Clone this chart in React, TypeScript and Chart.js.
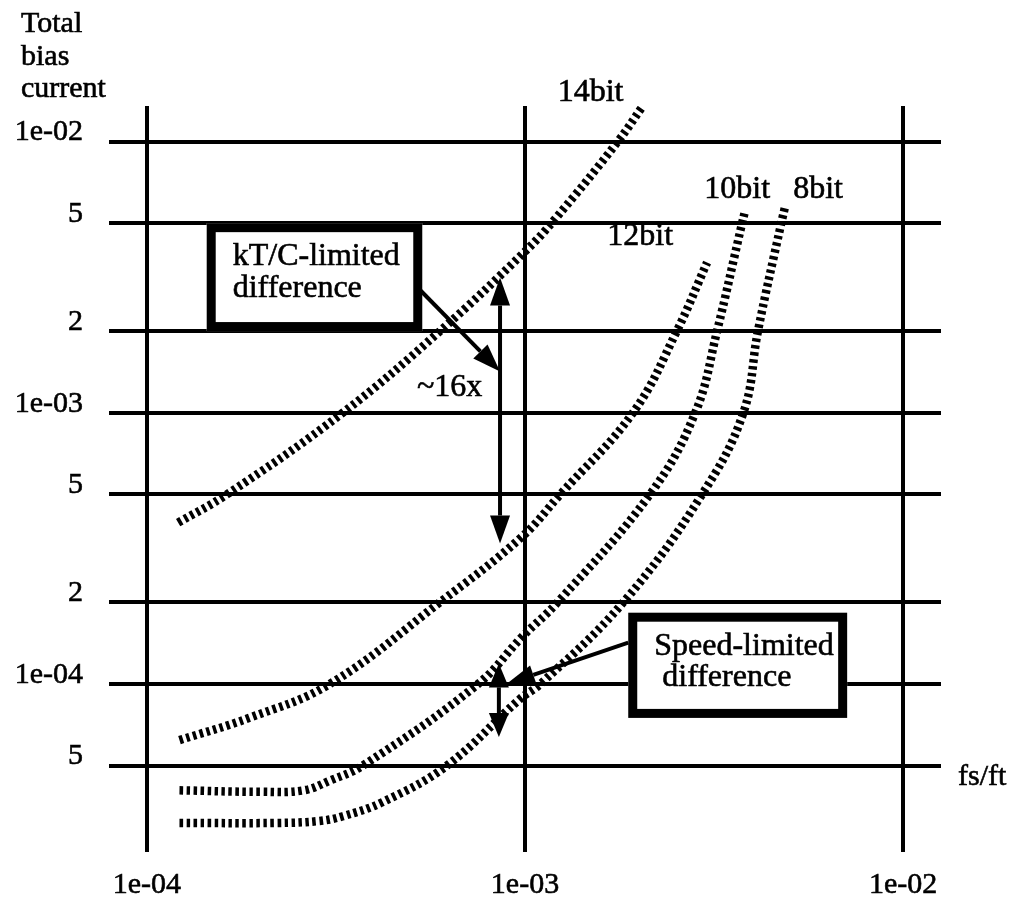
import React, { useEffect, useRef } from "react";
import { Chart, registerables } from "chart.js";

Chart.register(...registerables);

const FONT = '"Liberation Serif", "Times New Roman", Times, serif';

// axis bounds (log10)
const xRangeLog = [-4.1, -1.9];
const yRangeLog = [-4.62, -1.869];

const xTickValues = [1e-4, 1e-3, 1e-2];
const xTickLabels = ["1e-04", "1e-03", "1e-02"];
const yTickValues = [1e-2, 5e-3, 2e-3, 1e-3, 5e-4, 2e-4, 1e-4, 5e-5];
const yTickLabels = ["1e-02", "5", "2", "1e-03", "5", "2", "1e-04", "5"];

const yTitleLines = ["Total", "bias", "current"];
const xTitle = "fs/ft";

// curves
const seriesNames = ["14bit", "12bit", "10bit", "8bit"];
const x14 = [1.21e-4, 1.63e-4, 3.3e-4, 5.96e-4, 1.0e-3, 1.19e-3, 1.76e-3, 2.04e-3];
const y14 = [3.93e-4, 5.0e-4, 1.0e-3, 2.0e-3, 3.93e-3, 5.1e-3, 1.0e-2, 1.34e-2];
const x12 = [1.22e-4, 1.87e-4, 3.05e-4, 5.96e-4, 9.8e-4, 1.24e-3, 1.93e-3, 2.52e-3, 3.03e-3];
const y12 = [6.2e-5, 7.5e-5, 1.0e-4, 2.0e-4, 3.48e-4, 5.0e-4, 1.0e-3, 2.0e-3, 3.58e-3];
const x10 = [1.22e-4, 2.0e-4, 2.6e-4, 3.05e-4, 3.73e-4, 7.52e-4, 9.82e-4, 1.22e-3, 2.14e-3, 2.82e-3, 3.22e-3, 3.75e-3, 3.82e-3];
const y10 = [4.05e-5, 4.0e-5, 4.05e-5, 4.4e-5, 5.0e-5, 1.0e-4, 1.49e-4, 2.0e-4, 5.0e-4, 1.0e-3, 2.0e-3, 5.0e-3, 5.56e-3];
const x8 = [1.22e-4, 2.2e-4, 2.85e-4, 3.3e-4, 4.21e-4, 6.22e-4, 9.7e-4, 1.1e-3, 1.82e-3, 2.94e-3, 3.78e-3, 4.13e-3, 4.76e-3, 4.88e-3];
const y8 = [3.07e-5, 3.07e-5, 3.12e-5, 3.25e-5, 3.67e-5, 5.0e-5, 8.8e-5, 1.0e-4, 2.0e-4, 5.0e-4, 1.0e-3, 2.0e-3, 5.0e-3, 5.81e-3];

// curve label anchors (left, baseline)
const curveLabelX = [1.22e-3, 1.65e-3, 2.98e-3, 5.12e-3];
const curveLabelY = [1.41e-2, 4.17e-3, 6.21e-3, 6.21e-3];

// annotation boxes
const boxText = [
  ["kT/C-limited", "difference"],
  ["Speed-limited", " difference"],
];
const boxX0 = [1.44e-4, 1.875e-3];
const boxX1 = [5.35e-4, 7.11e-3];
const boxY0 = [5.0e-3, 1.83e-4];
const boxY1 = [2.0e-3, 7.49e-5];

// single-headed arrows
const arrowFromX = [5.27e-4, 1.875e-3];
const arrowFromY = [2.84e-3, 1.42e-4];
const arrowToX = [8.59e-4, 8.95e-4];
const arrowToY = [1.42e-3, 1.0e-4];

// double-headed vertical arrows
const dblArrowX = [8.59e-4, 8.53e-4];
const dblArrowTop = [3.15e-3, 1.19e-4];
const dblArrowBottom = [3.29e-4, 6.37e-5];

const ratioText = "~16x";
const ratioX = 5.18e-4;
const ratioY = 1.15e-3;

function toPoints(xs: number[], ys: number[]) {
  return xs.map((v, i) => ({ x: v, y: ys[i] }));
}

function drawHead(ctx: CanvasRenderingContext2D, x0: number, y0: number, x1: number, y1: number, len: number, w: number) {
  const ang = Math.atan2(y1 - y0, x1 - x0);
  const bx = x1 - len * Math.cos(ang);
  const by = y1 - len * Math.sin(ang);
  ctx.beginPath();
  ctx.moveTo(x1, y1);
  ctx.lineTo(bx + (w / 2) * Math.sin(ang), by - (w / 2) * Math.cos(ang));
  ctx.lineTo(bx - (w / 2) * Math.sin(ang), by + (w / 2) * Math.cos(ang));
  ctx.closePath();
  ctx.fill();
  return [bx, by];
}

function heavyText(ctx: CanvasRenderingContext2D, s: string, x: number, y: number) {
  ctx.fillText(s, x, y);
  ctx.strokeText(s, x, y);
}

const notesPlugin = {
  id: "notes",
  afterDatasetsDraw(chart: any) {
    const ctx: CanvasRenderingContext2D = chart.ctx;
    const xs = chart.scales.x;
    const ys = chart.scales.y;
    const px = (v: number) => xs.getPixelForValue(v);
    const py = (v: number) => ys.getPixelForValue(v);
    ctx.save();
    ctx.strokeStyle = "#000";
    ctx.fillStyle = "#000";
    ctx.lineCap = "butt";

    // boxes
    for (let i = 0; i < boxText.length; i++) {
      const l = px(boxX0[i]);
      const r = px(boxX1[i]);
      const t = py(boxY0[i]);
      const b = py(boxY1[i]);
      ctx.fillStyle = "#fff";
      ctx.fillRect(l, t, r - l, b - t);
      ctx.lineWidth = 9;
      ctx.strokeStyle = "#000";
      ctx.strokeRect(l + 4.5, t + 4.5, r - l - 9, b - t - 9);
      ctx.fillStyle = "#000";
      ctx.font = `32px ${FONT}`;
      ctx.textAlign = "left";
      ctx.textBaseline = "alphabetic";
      ctx.lineWidth = 0.6;
      boxText[i].forEach((s, k) => heavyText(ctx, s, l + 26, t + 42 + k * 31.5));
    }

    // single arrows
    ctx.lineWidth = 4;
    for (let i = 0; i < arrowFromX.length; i++) {
      const x0 = px(arrowFromX[i]);
      const y0 = py(arrowFromY[i]);
      const x1 = px(arrowToX[i]);
      const y1 = py(arrowToY[i]);
      const [bx, by] = drawHead(ctx, x0, y0, x1, y1, 28, 20);
      ctx.beginPath();
      ctx.moveTo(x0, y0);
      ctx.lineTo(bx, by);
      ctx.stroke();
    }

    // double arrows
    for (let i = 0; i < dblArrowX.length; i++) {
      const x0 = px(dblArrowX[i]);
      const yt = py(dblArrowTop[i]);
      const yb = py(dblArrowBottom[i]);
      const len = i === 0 ? 28 : 24;
      const [, b1] = drawHead(ctx, x0, yb, x0, yt, len, 20);
      const [, b2] = drawHead(ctx, x0, yt, x0, yb, len, 20);
      ctx.beginPath();
      ctx.moveTo(x0, b1);
      ctx.lineTo(x0, b2);
      ctx.stroke();
    }

    // texts
    ctx.font = `32px ${FONT}`;
    ctx.textAlign = "left";
    ctx.textBaseline = "alphabetic";
    ctx.lineWidth = 0.6;
    heavyText(ctx, ratioText, px(ratioX), py(ratioY));
    seriesNames.forEach((n, i) => heavyText(ctx, n, px(curveLabelX[i]), py(curveLabelY[i])));

    // axis titles
    ctx.font = `30px ${FONT}`;
    yTitleLines.forEach((s, k) => heavyText(ctx, s, 21, 32 + k * 32.5));
    heavyText(ctx, xTitle, chart.chartArea.right + 17, 785);
    ctx.restore();
  },
};

export default function App() {
  const ref = useRef<HTMLCanvasElement | null>(null);
  useEffect(() => {
    if (!ref.current) return;
    const common = {
      borderColor: "#000",
      borderWidth: 8.5,
      borderDash: [3.5, 3.5],
      borderCapStyle: "butt" as const,
      pointRadius: 0,
      fill: false,
      tension: 0.4,
    };
    const chart = new Chart(ref.current, {
      type: "line",
      data: {
        datasets: [
          { label: seriesNames[0], data: toPoints(x14, y14), ...common },
          { label: seriesNames[1], data: toPoints(x12, y12), ...common },
          { label: seriesNames[2], data: toPoints(x10, y10), ...common },
          { label: seriesNames[3], data: toPoints(x8, y8), ...common },
        ],
      },
      options: {
        animation: false,
        responsive: true,
        maintainAspectRatio: false,
        layout: { padding: { top: 106, right: 83, bottom: 0, left: 0 } },
        plugins: { legend: { display: false }, tooltip: { enabled: false } },
        scales: {
          x: {
            type: "logarithmic",
            bounds: "data",
            min: Math.pow(10, xRangeLog[0]),
            max: Math.pow(10, xRangeLog[1]),
            grid: { color: "#000", lineWidth: 4, drawTicks: false },
            border: { display: false },
            afterBuildTicks: (s: any) => {
              s.ticks = xTickValues.map((v) => ({ value: v }));
            },
            afterFit: (s: any) => {
              s.height = 53;
            },
            ticks: {
              autoSkip: false,
              maxRotation: 0,
              padding: 15,
              color: "#000",
              textStrokeColor: "#000",
              textStrokeWidth: 0.6,
              font: { family: FONT, size: 30 },
              callback: (v: any, i: number) => xTickLabels[i],
            },
          },
          y: {
            type: "logarithmic",
            bounds: "data",
            min: Math.pow(10, yRangeLog[0]),
            max: Math.pow(10, yRangeLog[1]),
            grid: { color: "#000", lineWidth: 4, drawTicks: false },
            border: { display: false },
            afterBuildTicks: (s: any) => {
              s.ticks = yTickValues.map((v) => ({ value: v }));
            },
            afterFit: (s: any) => {
              s.width = 109;
            },
            ticks: {
              autoSkip: false,
              padding: 26,
              labelOffset: -9,
              color: "#000",
              textStrokeColor: "#000",
              textStrokeWidth: 0.6,
              font: { family: FONT, size: 30 },
              callback: (v: any, i: number) => yTickLabels[i],
            },
          },
        },
      },
      plugins: [notesPlugin],
    } as any);
    return () => chart.destroy();
  }, []);
  return (
    <div style={{ position: "fixed", left: 0, top: 0, width: 1024, height: 905, background: "#fff" }}>
      <canvas ref={ref} />
    </div>
  );
}
